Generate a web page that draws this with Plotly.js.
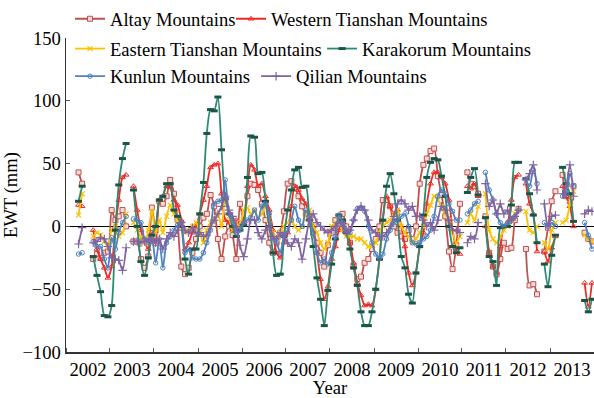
<!DOCTYPE html>
<html>
<head>
<meta charset="utf-8">
<script src="https://cdn.plot.ly/plotly-3.0.1.min.js"></script>
<style>html,body{margin:0;padding:0;background:#fff;}#chart{width:594px;height:398px;}</style>
</head>
<body>
<div id="chart"></div>
<script>
// Monthly EWT anomalies (mm), Jan 2002 .. Dec 2013, null = missing month
const years = [2002,2003,2004,2005,2006,2007,2008,2009,2010,2011,2012,2013];
const yearLabels = ["2002","2003","2004","2005","2006","2007","2008","2009","2010","2011","2012","2013"];
const seriesNames = ["Altay Mountains","Western Tianshan Mountains","Eastern Tianshan Mountains","Karakorum Mountains","Kunlun Mountains","Qilian Mountains"];

const altay = [
 null,null,null,43,34,null,null,-26,-22,-25,-21,-20,
 13,5,8,13,0,null,-12,-12,-26,-33,-24,15,
 -3,20,18,24,37,26,5,-32,-38,-33,-21,-10,
 0,7,10,25,16,-10,-26,-8,0,-7,-26,18,
 3,24,34,33,29,18,5,-13,-21,-13,-5,12,
 34,36,31,24,16,10,8,-5,-13,-21,-32,-15,
 -5,5,8,10,0,-13,-32,-42,-40,-29,-26,-18,
 -10,0,21,21,16,0,-5,-8,-10,-3,-10,0,
 34,49,54,60,62,40,25,8,-20,-34,-15,18,
 null,43,34,32,26,null,8,-21,-32,-38,-26,-13,
 -18,-17,5,14,null,-18,-47,-46,-54,null,-20,-1,
 20,28,null,41,24,20,32,null,null,-5,-10,-12
];
const westernTianshan = [
 null,null,null,17,16,null,null,-3,-18,-26,-33,-41,
 -32,0,21,39,41,null,32,13,-3,-12,-18,-5,
 -14,21,24,32,31,21,17,5,-18,-13,-5,0,
 10,21,32,47,49,50,26,5,3,-3,5,0,
 5,32,49,45,32,34,24,13,-3,-21,-25,-13,
 -5,16,32,29,22,18,10,0,-21,-42,-58,-48,
 -26,-16,-3,3,-3,-13,-29,-45,-55,-63,-62,-63,
 -50,-26,5,24,16,10,13,0,-16,-37,-47,-37,
 -16,-5,18,34,43,43,39,34,21,-3,-18,-22,
 null,32,30,34,24,null,0,-21,-32,-37,-16,0,
 3,21,39,41,null,34,18,10,-20,null,-20,-28,
 -17,-8,null,32,24,16,0,null,null,-45,-64,-45
];
const easternTianshan = [
 null,null,null,9,26,null,null,-8,-5,-7,-12,-16,
 -3,0,-8,-5,10,null,3,-3,-9,-13,-3,12,
 -5,5,-5,8,17,10,5,0,-5,-3,0,3,
 -5,-13,-3,3,7,10,0,24,8,-3,3,0,
 13,15,10,13,7,10,16,5,-5,-10,-5,0,
 3,5,0,-3,0,10,13,0,-5,-13,-18,-13,
 0,3,5,-3,-8,-8,-8,-10,-10,-13,-16,-16,
 -13,-5,0,3,5,10,13,0,-5,-8,-13,-10,
 -5,0,10,17,24,21,16,10,5,-5,-13,-8,
 null,3,10,5,16,null,26,-3,-10,-13,-8,-3,
 0,5,10,13,null,12,-3,-5,0,null,-13,-18,
 -3,3,null,3,5,18,28,null,null,-7,-10,-12
];
const karakorum = [
 null,null,null,20,32,null,null,-24,-39,-52,-71,-72,
 -63,-3,33,54,66,null,29,0,-28,-39,-25,-7,
 0,21,24,34,34,13,8,0,-26,-38,-18,-18,
 10,35,74,93,92,103,61,22,10,0,-8,-3,
 1,39,72,71,42,43,20,0,-21,-39,-38,-8,
 13,29,45,47,31,32,5,-16,-41,-58,-79,-51,
 -30,-10,9,5,-5,-18,-33,-47,-68,-79,-79,-68,
 -50,-26,5,32,42,26,5,-24,-33,-54,-61,-37,
 -16,9,39,51,54,53,40,24,0,-16,-21,-17,
 null,27,39,46,25,null,7,-24,-28,-47,-1,0,
 0,17,51,51,null,38,26,9,-13,null,-30,-48,
 -23,-7,null,47,34,26,4,null,null,-59,-68,-58
];
const kunlun = [
 null,null,null,-22,-21,null,null,-12,-16,-16,-26,-33,
 -9,-18,-5,3,8,null,6,5,3,-10,-13,-10,
 -29,-10,-33,-13,-8,-3,1,3,-21,-18,-25,-26,
 -26,-21,-13,-3,18,20,21,37,10,5,-5,-3,
 3,5,7,13,5,16,18,10,-10,-13,-21,-8,
 -3,5,16,5,0,13,8,-5,-21,-29,-26,-30,
 -21,-8,9,3,-3,-5,5,14,15,12,0,-13,
 -22,-25,-22,-10,-3,3,5,8,10,0,-13,-14,
 -13,-10,-8,-3,8,24,29,26,18,12,5,5,
 null,10,13,18,20,null,43,29,21,10,3,0,
 3,5,8,13,null,37,32,45,34,null,3,0,
 3,0,null,24,26,42,32,null,null,3,-7,-18
];
const qilian = [
 null,null,null,-14,-1,null,null,-13,-12,-9,-10,-16,
 -25,-26,-27,-35,-17,null,-12,-12,-13,-12,-10,-11,
 -13,-10,-18,-10,-5,-8,-3,3,-3,-5,-1,-5,
 -5,-8,-7,0,5,10,16,24,13,8,0,-15,
 -24,-10,5,5,-5,-10,-3,0,-8,-10,-5,-8,
 -13,-16,-10,-13,-26,-10,5,10,3,0,-3,-5,
 -3,0,3,0,-5,-3,5,13,16,13,5,-3,
 -5,-8,-8,-5,0,8,18,21,18,13,16,8,
 8,5,0,3,-3,5,16,13,5,-3,-3,-5,
 null,-13,-8,-10,3,null,34,16,21,10,18,10,
 13,5,8,13,null,37,42,49,29,null,18,0,
 8,9,null,26,32,49,24,null,null,10,13,12
];

// month positions (mid-month dates)
const months = [];
years.forEach(y => { for (let m = 1; m <= 12; m++) months.push(y + "-" + String(m).padStart(2, "0") + "-15"); });

const FONT = "Liberation Serif, Times New Roman, serif";
const FS = 18.6;
const styles = [
  {color:"#c0504d", symbol:"square", mcolor:"#f2dcdb", mline:"#c0504d", size:5, lw:1, lg:"legend"},
  {color:"#ee2a24", symbol:"triangle-up-open", mcolor:"#ee2a24", mline:"#ee2a24", size:5, lw:1, lg:"legend2"},
  {color:"#ffc000", symbol:"x-thin-open", mcolor:"#ffc000", mline:"#ffc000", size:5, lw:1.2, lg:"legend3"},
  {color:"#2f8a73", symbol:"line-ew-open", mcolor:"#1b5546", mline:"#1b5546", size:5, lw:3, lg:"legend4"},
  {color:"#4f81bd", symbol:"circle-open", mcolor:"#4f81bd", mline:"#4f81bd", size:4.5, lw:1, lg:"legend5"},
  {color:"#8064a2", symbol:"cross-thin-open", mcolor:"#8064a2", mline:"#8064a2", size:6, lw:1.2, lg:"legend6"}
];
const allData = [altay, westernTianshan, easternTianshan, karakorum, kunlun, qilian];

const traces = allData.map((vals, k) => {
  const s = styles[k];
  return {
    x: months, y: vals, name: seriesNames[k], type: "scatter", mode: "lines+markers",
    legend: s.lg,
    line: {color: s.color, width: 1.8, shape: "spline", smoothing: 0.7},
    marker: {symbol: s.symbol, size: s.size, color: s.mcolor,
             line: {color: s.mline, width: s.lw}},
    connectgaps: false
  };
});

function lg(xp, yp) {
  return {x: xp, y: yp, xanchor: "left", yanchor: "middle", orientation: "h",
          bgcolor: "rgba(0,0,0,0)", font: {family: FONT, size: FS, color: "#000"}};
}

const layout = {
  width: 594, height: 398,
  margin: {l: 66, r: 0, t: 36, b: 46},
  paper_bgcolor: "#fff", plot_bgcolor: "#fff",
  font: {family: FONT, size: FS, color: "#000"},
  xaxis: {
    type: "date",
    range: ["2002-01-01", "2014-01-01"],
    tick0: "2002-01-01", dtick: "M12",
    ticklabelmode: "period", tickformat: "%Y",
    ticks: "inside", ticklen: 4, tickcolor: "#555", tickwidth: 1,
    showline: true, linecolor: "#333", linewidth: 1.5,
    showgrid: false, zeroline: false,
    tickfont: {family: FONT, size: FS, color: "#000"},
    title: {text: "Year", font: {family: FONT, size: FS, color: "#000"}, standoff: 5}
  },
  yaxis: {
    range: [-100, 150], tickvals: [-100, -50, 0, 50, 100, 150],
    ticks: "inside", ticklen: 4, tickcolor: "#555",
    showline: true, linecolor: "#333", linewidth: 1.5,
    showgrid: false, zeroline: true, zerolinecolor: "#000", zerolinewidth: 1.6,
    tickfont: {family: FONT, size: FS, color: "#000"},
    title: {text: "EWT (mm)", font: {family: FONT, size: FS, color: "#000"}, standoff: 1}
  },
  legend: lg(0.0076, 1.060),
  legend2: lg(0.3125, 1.060),
  legend3: lg(0.0076, 0.965),
  legend4: lg(0.485, 0.965),
  legend5: lg(0.0076, 0.877),
  legend6: lg(0.36, 0.877),
  showlegend: true
};

Plotly.newPlot("chart", traces, layout, {staticPlot: true, displayModeBar: false});
</script>
</body>
</html>
